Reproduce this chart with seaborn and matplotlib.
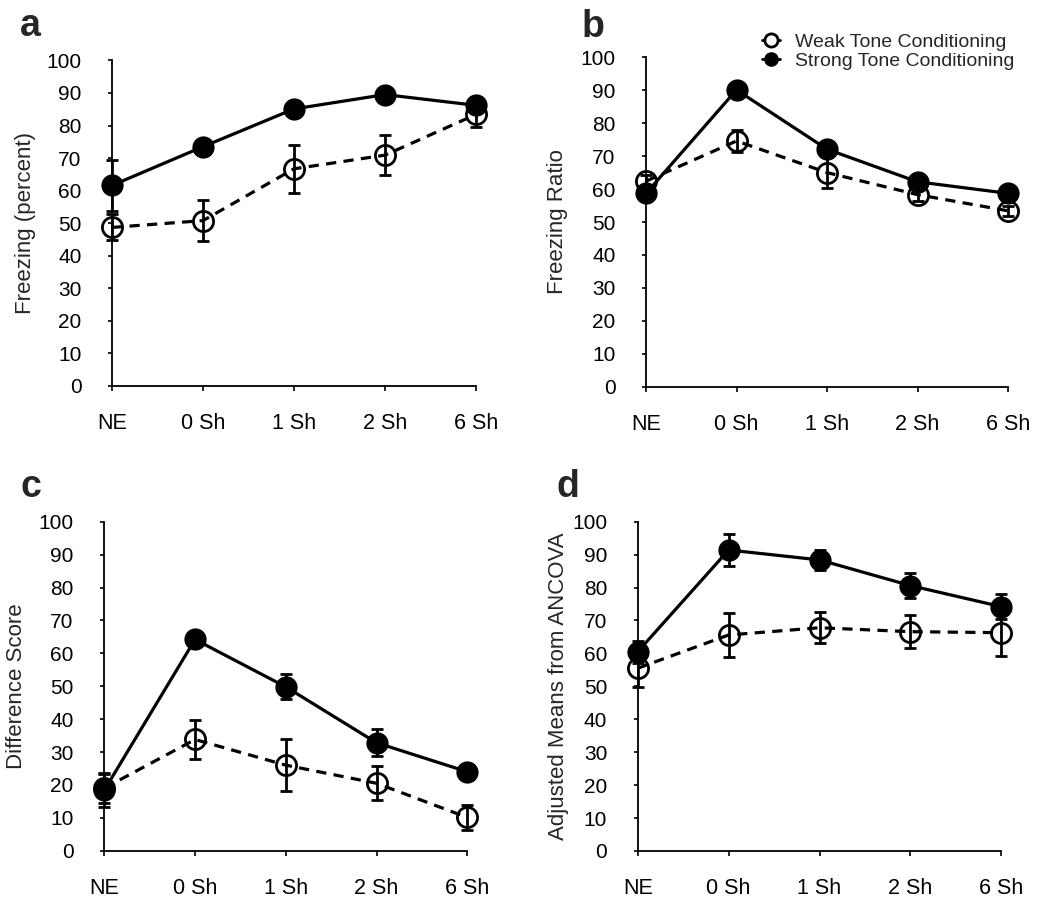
import numpy as np
import pandas as pd
import matplotlib
matplotlib.use("Agg")
import matplotlib.pyplot as plt
from matplotlib.lines import Line2D
import seaborn as sns

# ---------------- data ----------------
categories = ["NE", "0 Sh", "1 Sh", "2 Sh", "6 Sh"]
groups = ["Weak Tone Conditioning", "Strong Tone Conditioning"]

a_weak = [48.7, 50.8, 66.7, 70.9, 83.4]
a_weak_err = [4.0, 6.4, 7.4, 6.2, 4.0]
a_strong = [61.6, 73.5, 85.1, 89.5, 86.2]
a_strong_err = [7.8, 2.5, 2.5, 2.0, 2.5]

b_weak = [62.4, 74.6, 65.0, 58.3, 53.4]
b_weak_err = [2.0, 3.3, 4.8, 2.0, 1.5]
b_strong = [58.7, 90.1, 72.1, 62.2, 58.7]
b_strong_err = [1.5, 1.5, 1.5, 1.5, 1.5]

c_weak = [19.0, 33.8, 26.0, 20.5, 10.1]
c_weak_err = [4.5, 5.9, 8.0, 5.1, 3.9]
c_strong = [18.4, 64.2, 49.8, 32.8, 24.0]
c_strong_err = [5.0, 2.0, 3.8, 4.1, 2.5]

d_weak = [55.5, 65.6, 67.8, 66.6, 66.3]
d_weak_err = [5.8, 6.7, 4.7, 5.1, 7.0]
d_strong = [60.5, 91.4, 88.4, 80.6, 74.2]
d_strong_err = [3.3, 4.8, 3.0, 3.8, 3.8]

ylabels = ["Freezing (percent)", "Freezing Ratio", "Difference Score",
           "Adjusted Means from ANCOVA"]
panel_letters = ["a", "b", "c", "d"]
yticks = list(range(0, 101, 10))

# ---------------- style ----------------
sns.set_style("ticks")
plt.rcParams["font.family"] = ["Liberation Sans", "DejaVu Sans"]

W, H = 1050, 915
fig = plt.figure(figsize=(W / 100, H / 100), dpi=100)

# axes boxes in pixels: left, top, right, bottom
boxes = [(112, 60.4, 476, 386), (646, 57.3, 1008, 386.7),
         (104.3, 521.7, 467.3, 850.7), (637.7, 521.7, 1001.3, 851)]
ylabel_right_px = [36, 568, 27, 569]
letter_pos = [(20, 36), (582, 37), (20, 497), (557, 497)]

panels = [
    (a_weak, a_weak_err, a_strong, a_strong_err),
    (b_weak, b_weak_err, b_strong, b_strong_err),
    (c_weak, c_weak_err, c_strong, c_strong_err),
    (d_weak, d_weak_err, d_strong, d_strong_err),
]

xpos = np.arange(len(categories))
ms = 14.5
lw = 2.3

for i, (wv, we, sv, se) in enumerate(panels):
    l, t, r, b = boxes[i]
    ax = fig.add_axes([l / W, 1 - b / H, (r - l) / W, (b - t) / H])
    df = pd.DataFrame({
        "x": np.concatenate([xpos, xpos]),
        "value": list(sv) + list(wv),
        "group": [groups[1]] * len(xpos) + [groups[0]] * len(xpos),
    })
    ds = df[df["group"] == groups[1]]
    dw = df[df["group"] == groups[0]]

    # strong: solid, filled
    ax.errorbar(ds["x"], ds["value"], yerr=se, fmt="none", ecolor="black",
                elinewidth=2.0, capsize=4.5, capthick=2.0, clip_on=False, zorder=3)
    sns.lineplot(data=ds, x="x", y="value", ax=ax, color="black", lw=lw,
                 marker="o", markersize=ms, markerfacecolor="black",
                 markeredgecolor="black", markeredgewidth=1.5,
                 clip_on=False, zorder=4, legend=False)
    # weak: dashed, open
    ax.errorbar(dw["x"], dw["value"], yerr=we, fmt="none", ecolor="black",
                elinewidth=2.0, capsize=4.5, capthick=2.0, clip_on=False, zorder=5)
    sns.lineplot(data=dw, x="x", y="value", ax=ax, color="black", lw=lw,
                 linestyle=(0, (3.2, 2.3)),
                 marker="o", markersize=ms, markerfacecolor="none",
                 markeredgecolor="black", markeredgewidth=2.0,
                 clip_on=False, zorder=6, legend=False)

    ax.set_xlim(0, len(categories) - 1)
    ax.set_ylim(0, 100)
    ax.set_yticks(yticks)
    ax.set_xticks(xpos)
    ax.set_xticklabels(categories)
    ax.set_xlabel("")
    ax.set_ylabel(ylabels[i], fontsize=16)
    ax.yaxis.set_label_coords((ylabel_right_px[i] - l) / (r - l), 0.5)
    for s in ["top", "right"]:
        ax.spines[s].set_visible(False)
    for s in ["left", "bottom"]:
        ax.spines[s].set_linewidth(1.3)
        ax.spines[s].set_color("black")
    ax.tick_params(axis="y", direction="out", length=3, width=1.2,
                   labelsize=15, pad=19, colors="black")
    ax.tick_params(axis="x", direction="out", length=3.5, width=1.2,
                   labelsize=15.5, pad=16, colors="black")
    ax.grid(False)

    lx, ly = letter_pos[i]
    fig.text(lx / W, 1 - ly / H, panel_letters[i], fontsize=27,
             fontweight="bold", va="baseline", ha="left")

    if i == 1:
        handles = [
            Line2D([0], [0], color="black", lw=2, marker="o", markersize=9.5,
                   markerfacecolor="white", markeredgecolor="black",
                   markeredgewidth=2),
            Line2D([0], [0], color="black", lw=2, marker="o", markersize=9.5,
                   markerfacecolor="black", markeredgecolor="black"),
        ]
        fig.legend(handles, groups, loc="upper left",
                   bbox_to_anchor=(762 / W, 1 - 33 / H),
                   bbox_transform=fig.transFigure, frameon=False,
                   fontsize=14, handlelength=0.9, handletextpad=0.8,
                   labelspacing=0.08, borderpad=0, borderaxespad=0)

fig.savefig("out.png", dpi=100, facecolor="white")
